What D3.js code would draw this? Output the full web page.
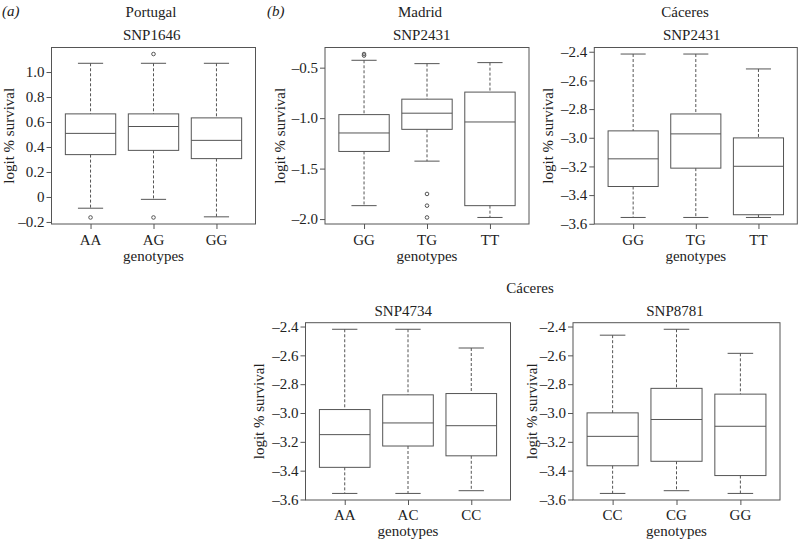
<!DOCTYPE html>
<html><head><meta charset="utf-8">
<script src="https://cdn.jsdelivr.net/npm/d3@7"></script>
<style>
body{margin:0;background:#fff;}
svg text{font-family:"Liberation Serif","Times New Roman",serif;fill:#222;}
</style></head>
<body><svg id="c" width="799" height="539"></svg>
<script>
// ---- data (five-number boxplot stats: lower whisker, Q1, median, Q3, upper whisker) ----
const catsSNP1646 = ["AA","AG","GG"];
const statsSNP1646 = [
  [-0.090, 0.339, 0.509, 0.665, 1.070],
  [-0.019, 0.373, 0.564, 0.665, 1.070],
  [-0.159, 0.307, 0.453, 0.633, 1.070]
];
const outSNP1646 = [[-0.164], [-0.164, 1.144], []];
const ticksSNP1646 = [-0.2, 0, 0.2, 0.4, 0.6, 0.8, 1.0];

const catsMadrid = ["GG","TG","TT"];
const statsMadrid = [
  [-1.867, -1.330, -1.147, -0.965, -0.427],
  [-1.426, -1.111, -0.951, -0.812, -0.460],
  [-1.984, -1.867, -1.038, -0.742, -0.450]
];
const outMadrid = [[-0.365, -0.380], [-1.751, -1.867, -1.984], []];
const ticksMadrid = [-2.0, -1.5, -1.0, -0.5];

const catsCac2431 = ["GG","TG","TT"];
const statsCac2431 = [
  [-3.556, -3.340, -3.147, -2.952, -2.416],
  [-3.556, -3.212, -2.973, -2.834, -2.416],
  [-3.556, -3.537, -3.199, -3.001, -2.520]
];
const outCac2431 = [[], [], []];

const catsSNP4734 = ["AA","AC","CC"];
const statsSNP4734 = [
  [-3.558, -3.377, -3.150, -2.976, -2.419],
  [-3.558, -3.229, -3.069, -2.874, -2.419],
  [-3.539, -3.297, -3.088, -2.865, -2.549]
];
const outSNP4734 = [[], [], []];

const catsSNP8781 = ["CC","CG","GG"];
const statsSNP8781 = [
  [-3.558, -3.366, -3.162, -2.999, -2.460],
  [-3.539, -3.335, -3.045, -2.829, -2.419],
  [-3.558, -3.434, -3.092, -2.869, -2.586]
];
const outSNP8781 = [[], [], []];
const ticksCaceres = [-3.6, -3.4, -3.2, -3.0, -2.8, -2.6, -2.4];

// ---- drawing ----
const svg = d3.select("#c");
const LINE = "#555";
const FS = 15;
const SERIF = '"Liberation Serif","Times New Roman",serif';
const fmt = v => (v < 0 ? "\u2013" : "") + (v === 0 ? "0" : d3.format(".1f")(Math.abs(v)));

function panel(o) {
  const {x0, x1, y0, y1, cats, stats, outs, ticks, ylabX, xlabBase, genBase} = o;
  const g = svg.append("g");
  const all = stats.flat().concat(outs.flat());
  const [mn, mx] = d3.extent(all);
  const pad = (mx - mn) * 0.04;
  const y = d3.scaleLinear().domain([mn - pad, mx + pad]).range([y1, y0]);
  const x = d3.scaleLinear().domain([0.38, cats.length + 0.62]).range([x0, x1]);
  const u = x(2) - x(1);
  // frame
  g.append("rect").attr("x", x0).attr("y", y0).attr("width", x1 - x0).attr("height", y1 - y0)
    .attr("fill", "none").attr("stroke", LINE).attr("stroke-width", 1);
  // y axis
  const ya = g.append("g").attr("transform", `translate(${x0},0)`)
    .call(d3.axisLeft(y).tickValues(ticks).tickSize(5).tickPadding(2).tickFormat(fmt));
  ya.attr("font-family", SERIF).attr("font-size", FS);
  ya.select(".domain").remove();
  ya.selectAll("line").attr("stroke", LINE);
  ya.selectAll("text").attr("fill", "#222");
  // x axis
  const xa = g.append("g").attr("transform", `translate(0,${y1})`)
    .call(d3.axisBottom(x).tickValues(d3.range(1, cats.length + 1)).tickSize(5).tickFormat(() => ""));
  xa.select(".domain").remove();
  xa.selectAll("line").attr("stroke", LINE);
  cats.forEach((c, i) => {
    g.append("text").attr("x", x(i + 1)).attr("y", xlabBase).attr("text-anchor", "middle")
      .attr("font-size", FS).text(c);
  });
  g.append("text").attr("x", (x0 + x1) / 2).attr("y", genBase).attr("text-anchor", "middle")
    .attr("font-size", FS).text("genotypes");
  g.append("text").attr("transform", `translate(${ylabX},${(y0 + y1) / 2}) rotate(-90)`)
    .attr("text-anchor", "middle").attr("font-size", FS).text("logit % survival");
  // boxes
  stats.forEach((s, i) => {
    const cx = x(i + 1), bw = 0.8 * u, cw = 0.4 * u;
    const [lw, q1, md, q3, hw] = s;
    const b = g.append("g").attr("stroke", LINE).attr("fill", "none").attr("stroke-width", 1);
    b.append("line").attr("x1", cx).attr("x2", cx).attr("y1", y(hw)).attr("y2", y(q3)).attr("stroke-dasharray", "3,2");
    b.append("line").attr("x1", cx).attr("x2", cx).attr("y1", y(q1)).attr("y2", y(lw)).attr("stroke-dasharray", "3,2");
    b.append("line").attr("x1", cx - cw / 2).attr("x2", cx + cw / 2).attr("y1", y(hw)).attr("y2", y(hw));
    b.append("line").attr("x1", cx - cw / 2).attr("x2", cx + cw / 2).attr("y1", y(lw)).attr("y2", y(lw));
    b.append("rect").attr("x", cx - bw / 2).attr("width", bw).attr("y", y(q3)).attr("height", y(q1) - y(q3));
    b.append("line").attr("x1", cx - bw / 2).attr("x2", cx + bw / 2).attr("y1", y(md)).attr("y2", y(md));
    outs[i].forEach(v => {
      b.append("circle").attr("cx", cx).attr("cy", y(v)).attr("r", 1.8);
    });
  });
}

function label(txt, x, yb, opts = {}) {
  const t = svg.append("text").attr("x", x).attr("y", yb).attr("text-anchor", opts.anchor || "middle")
    .attr("font-size", FS).text(txt);
  if (opts.italic) t.attr("font-style", "italic");
  return t;
}

// top row
panel({x0: 51.5, x1: 255.5, y0: 47.5, y1: 224, cats: catsSNP1646, stats: statsSNP1646, outs: outSNP1646,
  ticks: ticksSNP1646, ylabX: 14, xlabBase: 245, genBase: 261});
panel({x0: 325, x1: 529, y0: 47.5, y1: 224, cats: catsMadrid, stats: statsMadrid, outs: outMadrid,
  ticks: ticksMadrid, ylabX: 285, xlabBase: 245, genBase: 261});
panel({x0: 594.3, x1: 797.3, y0: 47.5, y1: 224, cats: catsCac2431, stats: statsCac2431, outs: outCac2431,
  ticks: ticksCaceres, ylabX: 553, xlabBase: 245, genBase: 261});
// bottom row
panel({x0: 305.5, x1: 510.5, y0: 322.7, y1: 500, cats: catsSNP4734, stats: statsSNP4734, outs: outSNP4734,
  ticks: ticksCaceres, ylabX: 264, xlabBase: 520, genBase: 536});
panel({x0: 573, x1: 780, y0: 322.7, y1: 500, cats: catsSNP8781, stats: statsSNP8781, outs: outSNP8781,
  ticks: ticksCaceres, ylabX: 537, xlabBase: 520, genBase: 536});

// titles
label("(a)", 2, 16, {anchor: "start", italic: true});
label("(b)", 267, 16, {anchor: "start", italic: true});
label("Portugal", 151, 16.5);
label("SNP1646", 151.7, 39.5);
label("Madrid", 420, 16.5);
label("SNP2431", 421.7, 39.5);
label("Cáceres", 685, 16.5);
label("SNP2431", 691.7, 39.5);
label("Cáceres", 530, 293);
label("SNP4734", 403.3, 315.5);
label("SNP8781", 675, 315.5);
</script></body></html>
